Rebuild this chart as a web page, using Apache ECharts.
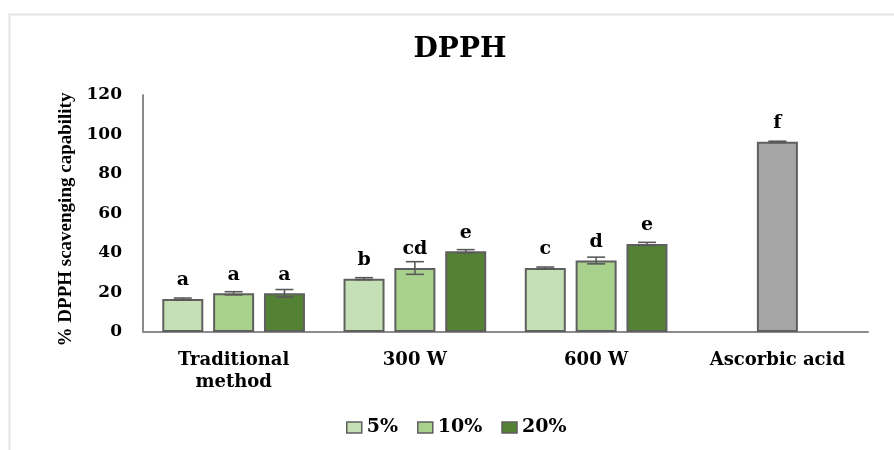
<!DOCTYPE html>
<html>
<head>
<meta charset="utf-8">
<script src="https://cdn.jsdelivr.net/npm/echarts@6/dist/echarts.min.js"></script>
<style>
  html, body { margin: 0; padding: 0; background: #fff; }
  #chart { width: 894px; height: 450px; }
</style>
</head>
<body>
<div id="chart"></div>
<script>
// DPPH radical scavenging capability by extraction method and concentration
const categories = ['Traditional\nmethod', '300 W', '600 W', 'Ascorbic acid'];
const seriesNames = ['5%', '10%', '20%'];

// Mean values (%), '-' where a group has no bar
const values5  = [16.7, 27.0, 32.4, '-'];
const values10 = [19.6, 32.4, 36.2, 96.3];
const values20 = [19.6, 40.9, 44.6, '-'];

// Standard deviations
const err5  = [0.5, 0.5, 0.5, null];
const err10 = [0.8, 3.2, 1.7, 0.3];
const err20 = [1.9, 0.8, 0.8, null];

// Significance letters
const letters5  = ['a', 'b', 'c', ''];
const letters10 = ['a', 'cd', 'd', 'f'];
const letters20 = ['a', 'e', 'e', ''];

const yTicks = { min: 0, max: 120, interval: 20 };

const colors = ['#c5e0b4', '#a9d18e', '#548235'];
const controlColor = '#a5a5a5';
const edgeColor = '#5f5f5f';

const BAR_W = 41;
const BAR_GAP = 0.24;

const allValues = [values5, values10, values20];
const allErr = [err5, err10, err20];
const allLetters = [letters5, letters10, letters20];

const labelFont = 'DejaVu Serif';

const barSeries = seriesNames.map((name, s) => ({
  name: name,
  type: 'bar',
  barWidth: BAR_W,
  barGap: (BAR_GAP * 100) + '%',
  data: allValues[s].map((v, i) => {
    if (s === 1 && i === 3) {
      return { value: v, itemStyle: { color: controlColor } };
    }
    return v;
  }),
  itemStyle: { color: colors[s], borderColor: edgeColor, borderWidth: 2 },
  label: {
    show: true,
    position: 'top',
    distance: 9,
    fontFamily: labelFont,
    fontWeight: 'bold',
    fontSize: 19,
    color: '#000',
    formatter: p => allLetters[s][p.dataIndex]
  },
  emphasis: { disabled: true }
}));

// Error bars: [category, series slot, mean, sd]
const errData = [];
allValues.forEach((vals, s) => {
  vals.forEach((v, i) => {
    if (v !== '-' && allErr[s][i] != null) errData.push([i, s, v, allErr[s][i]]);
  });
});

const errSeries = {
  type: 'custom',
  z: 5,
  silent: true,
  data: errData,
  renderItem: function (params, api) {
    const cat = api.value(0);
    const slot = api.value(1);
    const mean = api.value(2);
    const sd = api.value(3);
    const pitch = BAR_W * (1 + BAR_GAP);
    const dx = (slot - 1) * pitch;
    const hi = api.coord([cat, mean + sd]);
    const lo = api.coord([cat, mean - sd]);
    const x = hi[0] + dx;
    const cap = 9;
    const style = { stroke: '#595959', lineWidth: 1.6, fill: null };
    return {
      type: 'group',
      children: [
        { type: 'line', shape: { x1: x, y1: hi[1], x2: x, y2: lo[1] }, style: style },
        { type: 'line', shape: { x1: x - cap, y1: hi[1], x2: x + cap, y2: hi[1] }, style: style },
        { type: 'line', shape: { x1: x - cap, y1: lo[1], x2: x + cap, y2: lo[1] }, style: style }
      ]
    };
  }
};

const chart = echarts.init(document.getElementById('chart'), null, { renderer: 'canvas' });
chart.setOption({
  animation: false,
  backgroundColor: '#fff',
  graphic: [{
    type: 'rect',
    left: 7, top: 12,
    shape: { x: 0, y: 0, width: 900, height: 460 },
    style: { fill: null, stroke: '#e2e5ea', lineWidth: 2 },
    silent: true,
    z: -1
  }],
  title: {
    text: 'DPPH',
    left: 455,
    textAlign: 'center',
    top: 31,
    textStyle: { fontFamily: labelFont, fontWeight: 'bold', fontSize: 28, color: '#000' }
  },
  legend: {
    data: seriesNames,
    left: 341,
    top: 413,
    icon: 'rect',
    itemWidth: 15,
    itemHeight: 11,
    itemGap: 19,
    selectedMode: false,
    itemStyle: { borderColor: edgeColor, borderWidth: 1.5 },
    textStyle: { fontFamily: labelFont, fontWeight: 'bold', fontSize: 19, color: '#000' }
  },
  grid: { left: 143, right: 26, top: 95, bottom: 118 },
  xAxis: {
    type: 'category',
    data: categories,
    axisLine: { lineStyle: { color: '#8c8c8c', width: 2 } },
    axisTick: { show: false },
    axisLabel: {
      fontFamily: labelFont,
      fontWeight: 'bold',
      fontSize: 18,
      color: '#000',
      margin: 17,
      lineHeight: 22
    }
  },
  yAxis: {
    type: 'value',
    min: yTicks.min,
    max: yTicks.max,
    interval: yTicks.interval,
    name: '% DPPH scavenging capability',
    nameLocation: 'middle',
    nameGap: 64,
    nameTextStyle: {
      fontFamily: 'Liberation Serif', fontWeight: 'bold', fontSize: 19, color: '#000',
      padding: [0, 12, 0, 0]
    },
    splitLine: { show: false },
    axisLine: { show: true, lineStyle: { color: '#8c8c8c', width: 2 } },
    axisTick: { show: false },
    axisLabel: { fontFamily: labelFont, fontWeight: 'bold', fontSize: 17, color: '#000', margin: 21 }
  },
  series: barSeries.concat([errSeries])
});
</script>
</body>
</html>
